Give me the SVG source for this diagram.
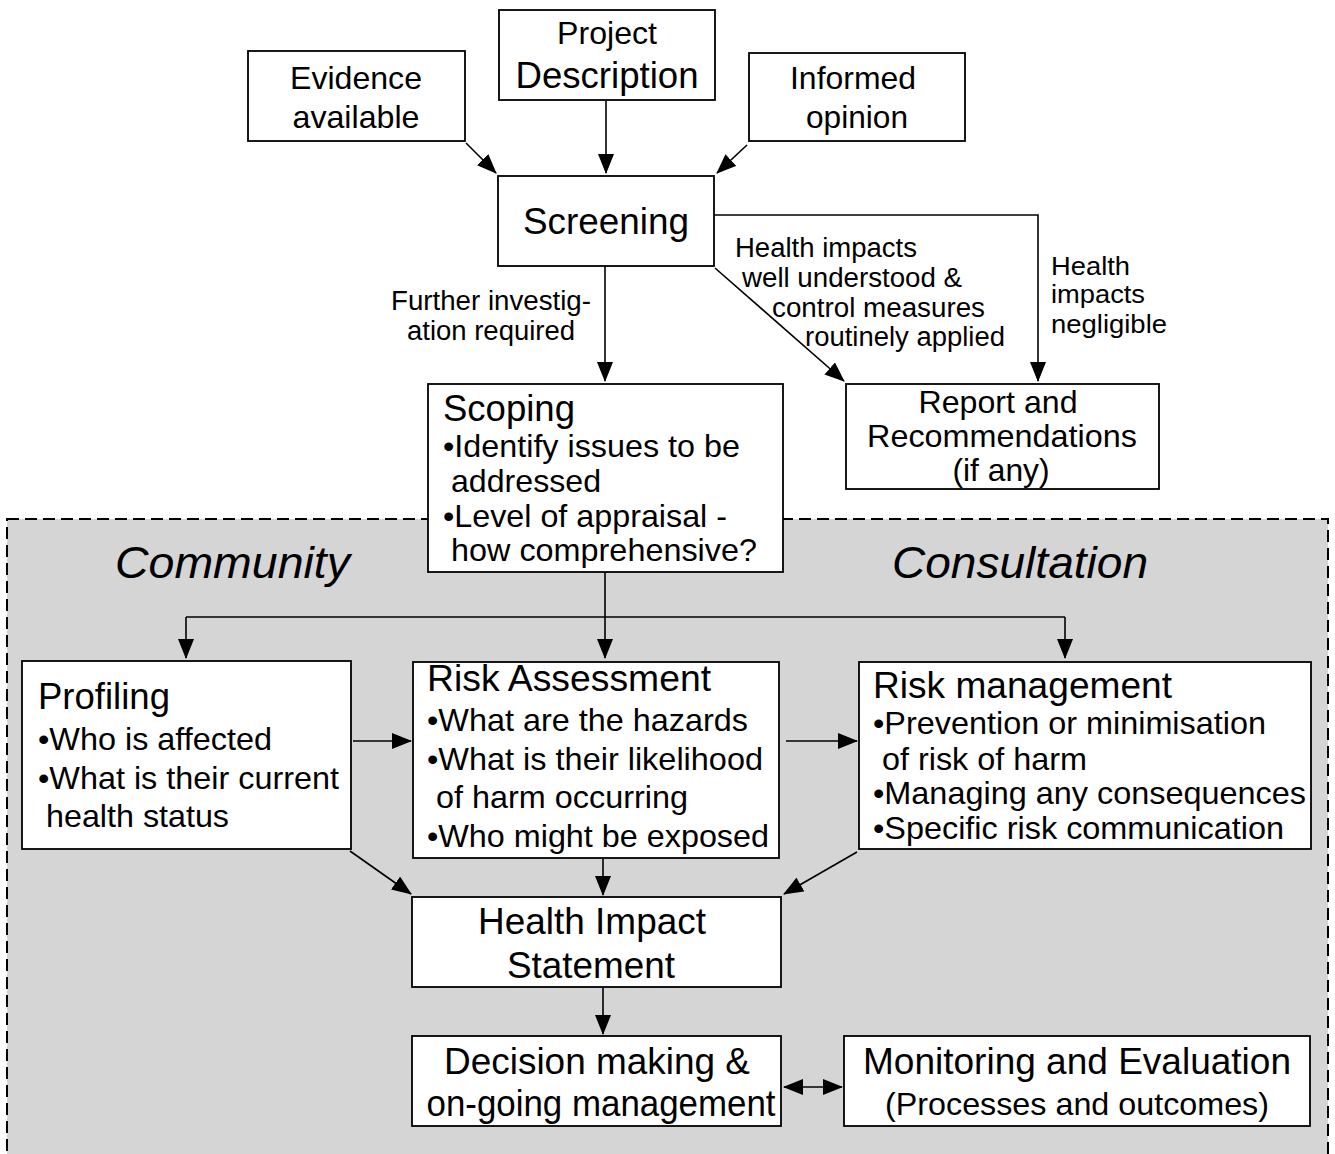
<svg xmlns="http://www.w3.org/2000/svg" width="1335" height="1154" viewBox="0 0 1335 1154">
  <style>
    text { font-family: "Liberation Sans", Arial, sans-serif; fill: #000; }
    .box { fill: #fff; stroke: #000; stroke-width: 1.8; }
    .t32 { font-size: 32px; }
    .t36 { font-size: 36px; }
    .lbl { font-size: 27px; }
    .sm { font-size: 26px; }
    .mid { text-anchor: middle; }
    .zone { font-size: 45px; font-style: italic; }
    .wire { fill: none; stroke: #000; stroke-width: 1.6; }
    .arr { marker-end: url(#head); }
  </style>
  <defs>
    <marker id="head" markerUnits="userSpaceOnUse" markerWidth="20" markerHeight="16" refX="19" refY="8" orient="auto">
      <path d="M0,0 L20,8 L0,16 z" fill="#000"/>
    </marker>
    <marker id="tail" markerUnits="userSpaceOnUse" markerWidth="20" markerHeight="16" refX="1" refY="8" orient="auto">
      <path d="M20,0 L0,8 L20,16 z" fill="#000"/>
    </marker>
  </defs>

  <rect width="1335" height="1154" fill="#fff"/>

  <!-- consultation zone -->
  <g id="consultation-zone">
    <rect x="7" y="519" width="1321" height="660" fill="#d5d5d5" stroke="#000" stroke-width="2" stroke-dasharray="12 6"/>
    <text class="zone" x="115" y="578" textLength="235" lengthAdjust="spacingAndGlyphs">Community</text>
    <text class="zone" x="892" y="578" textLength="256" lengthAdjust="spacingAndGlyphs">Consultation</text>
  </g>

  <!-- connectors -->
  <g id="connectors">
    <line class="wire arr" x1="466" y1="143" x2="496" y2="173"/>
    <line class="wire arr" x1="606" y1="101" x2="606" y2="173"/>
    <line class="wire arr" x1="747" y1="145" x2="717" y2="173"/>
    <line class="wire arr" x1="605" y1="266" x2="605" y2="381"/>
    <path class="wire arr" d="M714,215 H1038 V381"/>
    <line class="wire arr" x1="715" y1="268" x2="844" y2="381"/>
    <line class="wire arr" x1="605" y1="572" x2="605" y2="658"/>
    <line class="wire" x1="186" y1="617" x2="1065" y2="617"/>
    <line class="wire arr" x1="186" y1="617" x2="186" y2="658"/>
    <line class="wire arr" x1="1065" y1="617" x2="1065" y2="658"/>
    <line class="wire arr" x1="353" y1="741" x2="411" y2="741"/>
    <line class="wire arr" x1="786" y1="741" x2="857" y2="741"/>
    <line class="wire arr" x1="350" y1="851" x2="411" y2="894"/>
    <line class="wire arr" x1="603" y1="859" x2="603" y2="895"/>
    <line class="wire arr" x1="857" y1="852" x2="784" y2="894"/>
    <line class="wire arr" x1="603" y1="988" x2="603" y2="1034"/>
    <line class="wire arr" x1="784" y1="1087" x2="842" y2="1087" marker-start="url(#tail)"/>
    <text class="lbl" x="391" y="310" textLength="200" lengthAdjust="spacingAndGlyphs">Further investig-</text>
    <text class="lbl" x="407" y="340" textLength="168" lengthAdjust="spacingAndGlyphs">ation required</text>
    <text class="lbl" x="735" y="257" textLength="182" lengthAdjust="spacingAndGlyphs">Health impacts</text>
    <text class="lbl" x="742" y="287" textLength="220" lengthAdjust="spacingAndGlyphs">well understood &amp;</text>
    <text class="lbl" x="772" y="317" textLength="213" lengthAdjust="spacingAndGlyphs">control measures</text>
    <text class="lbl" x="805" y="346" textLength="200" lengthAdjust="spacingAndGlyphs">routinely applied</text>
    <text class="sm" x="1051" y="275" textLength="79" lengthAdjust="spacingAndGlyphs">Health</text>
    <text class="sm" x="1051" y="303" textLength="94" lengthAdjust="spacingAndGlyphs">impacts</text>
    <text class="sm" x="1051" y="333" textLength="116" lengthAdjust="spacingAndGlyphs">negligible</text>
  </g>

  <g id="evidence">
    <rect class="box" x="248" y="51" width="217" height="90"/>
    <text class="t32 mid" x="356" y="89" textLength="132" lengthAdjust="spacingAndGlyphs">Evidence</text>
    <text class="t32 mid" x="356" y="128" textLength="127" lengthAdjust="spacingAndGlyphs">available</text>
  </g>

  <g id="project">
    <rect class="box" x="499" y="10" width="216" height="90"/>
    <text class="t32 mid" x="607" y="44" textLength="100" lengthAdjust="spacingAndGlyphs">Project</text>
    <text class="t36 mid" x="607" y="88" textLength="183" lengthAdjust="spacingAndGlyphs">Description</text>
  </g>

  <g id="opinion">
    <rect class="box" x="749" y="53" width="216" height="88"/>
    <text class="t32 mid" x="853" y="89" textLength="126" lengthAdjust="spacingAndGlyphs">Informed</text>
    <text class="t32 mid" x="857" y="128" textLength="102" lengthAdjust="spacingAndGlyphs">opinion</text>
  </g>

  <g id="screening">
    <rect class="box" x="498" y="176" width="216" height="90"/>
    <text class="t36 mid" x="606" y="234" textLength="166" lengthAdjust="spacingAndGlyphs">Screening</text>
  </g>

  <g id="report">
    <rect class="box" x="846" y="384" width="313" height="105"/>
    <text class="t32 mid" x="998" y="413" textLength="159" lengthAdjust="spacingAndGlyphs">Report and</text>
    <text class="t32 mid" x="1002" y="447" textLength="270" lengthAdjust="spacingAndGlyphs">Recommendations</text>
    <text class="t32 mid" x="1001" y="481" textLength="97" lengthAdjust="spacingAndGlyphs">(if any)</text>
  </g>

  <g id="scoping">
    <rect class="box" x="428" y="384" width="355" height="188"/>
    <text class="t36" x="443" y="421" textLength="132" lengthAdjust="spacingAndGlyphs">Scoping</text>
    <text class="t32" x="443" y="457" textLength="297" lengthAdjust="spacingAndGlyphs">•Identify issues to be</text>
    <text class="t32" x="451" y="492" textLength="150" lengthAdjust="spacingAndGlyphs">addressed</text>
    <text class="t32" x="443" y="527" textLength="284" lengthAdjust="spacingAndGlyphs">•Level of appraisal -</text>
    <text class="t32" x="451" y="561" textLength="306" lengthAdjust="spacingAndGlyphs">how comprehensive?</text>
  </g>

  <g id="profiling">
    <rect class="box" x="22" y="661" width="329" height="188"/>
    <text class="t36" x="38" y="709" textLength="132" lengthAdjust="spacingAndGlyphs">Profiling</text>
    <text class="t32" x="38" y="750" textLength="234" lengthAdjust="spacingAndGlyphs">•Who is affected</text>
    <text class="t32" x="38" y="789" textLength="301" lengthAdjust="spacingAndGlyphs">•What is their current</text>
    <text class="t32" x="46" y="827" textLength="183" lengthAdjust="spacingAndGlyphs">health status</text>
  </g>

  <g id="risk-assessment">
    <rect class="box" x="413" y="662" width="366" height="196"/>
    <text class="t36" x="427" y="691" textLength="284" lengthAdjust="spacingAndGlyphs">Risk Assessment</text>
    <text class="t32" x="427" y="731" textLength="321" lengthAdjust="spacingAndGlyphs">•What are the hazards</text>
    <text class="t32" x="427" y="770" textLength="336" lengthAdjust="spacingAndGlyphs">•What is their likelihood</text>
    <text class="t32" x="436" y="808" textLength="252" lengthAdjust="spacingAndGlyphs">of harm occurring</text>
    <text class="t32" x="427" y="847" textLength="342" lengthAdjust="spacingAndGlyphs">•Who might be exposed</text>
  </g>

  <g id="risk-management">
    <rect class="box" x="859" y="662" width="452" height="187"/>
    <text class="t36" x="873" y="698" textLength="299" lengthAdjust="spacingAndGlyphs">Risk management</text>
    <text class="t32" x="873" y="734" textLength="393" lengthAdjust="spacingAndGlyphs">•Prevention or minimisation</text>
    <text class="t32" x="882" y="770" textLength="205" lengthAdjust="spacingAndGlyphs">of risk of harm</text>
    <text class="t32" x="873" y="804" textLength="433" lengthAdjust="spacingAndGlyphs">•Managing any consequences</text>
    <text class="t32" x="873" y="839" textLength="411" lengthAdjust="spacingAndGlyphs">•Specific risk communication</text>
  </g>

  <g id="impact-statement">
    <rect class="box" x="412" y="897" width="369" height="90"/>
    <text class="t36 mid" x="592" y="934" textLength="228" lengthAdjust="spacingAndGlyphs">Health Impact</text>
    <text class="t36 mid" x="591" y="978" textLength="168" lengthAdjust="spacingAndGlyphs">Statement</text>
  </g>

  <g id="decision">
    <rect class="box" x="412" y="1036" width="369" height="90"/>
    <text class="t36 mid" x="597" y="1074" textLength="306" lengthAdjust="spacingAndGlyphs">Decision making &amp;</text>
    <text class="t36 mid" x="601" y="1116" textLength="349" lengthAdjust="spacingAndGlyphs">on-going management</text>
  </g>

  <g id="monitoring">
    <rect class="box" x="844" y="1036" width="466" height="90"/>
    <text class="t36 mid" x="1077" y="1074" textLength="428" lengthAdjust="spacingAndGlyphs">Monitoring and Evaluation</text>
    <text class="t32 mid" x="1077" y="1115" textLength="384" lengthAdjust="spacingAndGlyphs">(Processes and outcomes)</text>
  </g>
</svg>
